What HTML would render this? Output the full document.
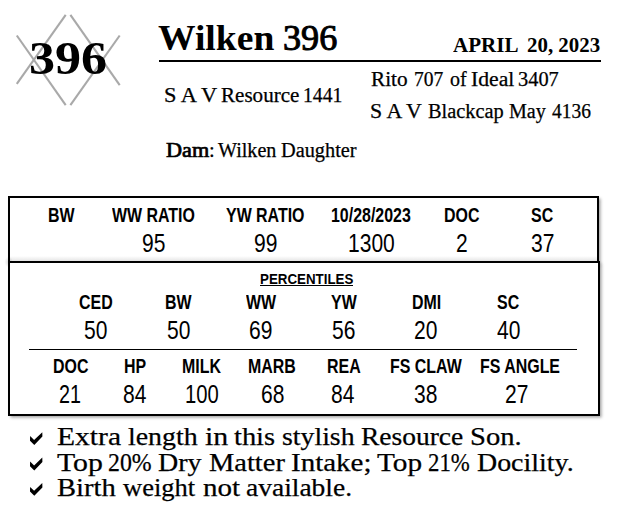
<!DOCTYPE html>
<html><head><meta charset="utf-8"><title>Wilken 396</title>
<style>
html,body{margin:0;padding:0;background:#fff;}
body{width:620px;height:528px;position:relative;overflow:hidden;color:#000;}
span.s,span.a{position:absolute;white-space:pre;line-height:1;transform-origin:0 0;display:block;}
span.s{font-family:"Liberation Serif",serif;-webkit-text-stroke:0.25px #000;}
span.a{font-family:"Liberation Sans",sans-serif;}
span.h{font-weight:400;-webkit-text-stroke:0.6px #000;}
span.b{font-weight:700;-webkit-text-stroke:0;}
.box{position:absolute;box-sizing:border-box;border:2px solid #000;background:#fff;box-shadow:1.5px 1.5px 3px rgba(0,0,0,.38);}
.hr{position:absolute;background:#000;}
svg{position:absolute;left:0;top:0;}
</style></head><body>
<svg width="620" height="528" viewBox="0 0 620 528">
 <g stroke="#a9a9a9" stroke-width="2.1" fill="none">
  <line x1="16.8" y1="35.5" x2="65.7" y2="105.2"/>
  <line x1="16.8" y1="83.9" x2="65.7" y2="14.8"/>
  <line x1="70.4" y1="14.8" x2="119.7" y2="85.1"/>
  <line x1="70.4" y1="105.2" x2="119.7" y2="35.5"/>
 </g>
</svg>
<div class="hr" style="left:159px;top:60px;width:442px;height:2px"></div>
<div class="box" style="left:8px;top:196px;width:591px;height:67px"></div>
<div style="position:absolute;left:10px;top:256px;width:587px;height:6px;background:linear-gradient(to bottom,rgba(0,0,0,0),rgba(0,0,0,.12))"></div>
<div style="position:absolute;left:4px;top:256px;width:8px;height:12px;background:radial-gradient(ellipse at 60% 50%,rgba(0,0,0,.14),rgba(0,0,0,0) 65%)"></div>
<div class="hr" style="left:8px;top:250px;width:2px;height:12px"></div>
<div class="box" style="left:8px;top:261px;width:592px;height:155px"></div>
<div class="hr" style="left:29px;top:349px;width:548px;height:1px"></div>
<div class="hr" style="left:260px;top:285px;width:93px;height:1px"></div>
<svg width="620" height="528" viewBox="0 0 620 528">
 <g fill="#000" stroke="none">
  <polygon points="30.1,436.1 34.1,440.0 42.3,432.2 42.4,436.6 34.3,445.0 30.0,440.8"/>
  <polygon points="30.1,461.5 34.1,465.4 42.3,457.6 42.4,462.0 34.3,470.4 30.0,466.2"/>
  <polygon points="30.1,486.9 34.1,490.8 42.3,483.0 42.4,487.4 34.3,495.8 30.0,491.6"/>
 </g>
</svg>
<span class="s b" style="left:29.02px;top:35.77px;font-size:46px;transform:scaleX(1.1328);">396</span>
<span class="s b" style="left:157.94px;top:20.35px;font-size:36px;transform:scaleX(1.0441);">Wilken</span>
<span class="s" style="left:282.92px;top:20.35px;font-size:36px;transform:scaleX(1.0051);-webkit-text-stroke:1.0px #000">396</span>
<span class="s b" style="left:452.61px;top:34.56px;font-size:20.7px;transform:scaleX(1.0164);">APRIL</span>
<span class="s b" style="left:527.16px;top:34.56px;font-size:20.7px;transform:scaleX(1.0094);">20, 2023</span>
<span class="s" style="left:163.82px;top:84.85px;font-size:20px;transform:scaleX(1.1189);">S A V</span>
<span class="s" style="left:220.86px;top:84.85px;font-size:20px;transform:scaleX(1.0541);">Resource</span>
<span class="s" style="left:303.20px;top:84.85px;font-size:20px;transform:scaleX(0.9834);">1441</span>
<span class="s" style="left:371.15px;top:69.05px;font-size:20px;transform:scaleX(1.0621);">Rito</span>
<span class="s" style="left:413.67px;top:69.05px;font-size:20px;transform:scaleX(0.9778);">707</span>
<span class="s" style="left:449.73px;top:69.05px;font-size:20px;transform:scaleX(0.9980);">of</span>
<span class="s" style="left:470.51px;top:69.05px;font-size:20px;transform:scaleX(1.0831);">Ideal</span>
<span class="s" style="left:517.76px;top:69.05px;font-size:20px;transform:scaleX(1.0192);">3407</span>
<span class="s" style="left:370.46px;top:100.85px;font-size:20px;transform:scaleX(1.0926);">S A V</span>
<span class="s" style="left:427.94px;top:100.85px;font-size:20px;transform:scaleX(1.0178);">Blackcap</span>
<span class="s" style="left:509.20px;top:100.85px;font-size:20px;transform:scaleX(1.0042);">May</span>
<span class="s" style="left:551.67px;top:100.85px;font-size:20px;transform:scaleX(0.9709);">4136</span>
<span class="s" style="left:165.63px;top:140.25px;font-size:20px;transform:scaleX(1.1098);-webkit-text-stroke:0.7px #000">Dam</span>
<span class="s" style="left:208.61px;top:140.25px;font-size:20px;transform:scaleX(1.0300);">:</span>
<span class="s" style="left:217.75px;top:140.25px;font-size:20px;transform:scaleX(1.0053);">Wilken</span>
<span class="s" style="left:280.69px;top:140.25px;font-size:20px;transform:scaleX(1.0160);">Daughter</span>
<span class="a b" style="left:47.82px;top:204.72px;font-size:20.3px;transform:scaleX(0.7860);">BW</span>
<span class="a b" style="left:111.97px;top:204.72px;font-size:20.3px;transform:scaleX(0.7860);">WW RATIO</span>
<span class="a b" style="left:226.34px;top:204.72px;font-size:20.3px;transform:scaleX(0.7860);">YW RATIO</span>
<span class="a b" style="left:330.81px;top:204.72px;font-size:20.3px;transform:scaleX(0.7860);">10/28/2023</span>
<span class="a b" style="left:444.49px;top:204.72px;font-size:20.3px;transform:scaleX(0.7860);">DOC</span>
<span class="a b" style="left:531.23px;top:204.72px;font-size:20.3px;transform:scaleX(0.7860);">SC</span>
<span class="a" style="left:141.76px;top:230.84px;font-size:25px;transform:scaleX(0.8420);">95</span>
<span class="a" style="left:253.65px;top:230.84px;font-size:25px;transform:scaleX(0.8420);">99</span>
<span class="a" style="left:347.60px;top:230.84px;font-size:25px;transform:scaleX(0.8420);">1300</span>
<span class="a" style="left:456.35px;top:230.84px;font-size:25px;transform:scaleX(0.8420);">2</span>
<span class="a" style="left:530.86px;top:230.84px;font-size:25px;transform:scaleX(0.8420);">37</span>
<span class="a b" style="left:259.60px;top:270.73px;font-size:15.2px;transform:scaleX(0.8775);">PERCENTILES</span>
<span class="a b" style="left:79.06px;top:292.02px;font-size:20.3px;transform:scaleX(0.7860);">CED</span>
<span class="a b" style="left:164.72px;top:292.02px;font-size:20.3px;transform:scaleX(0.7860);">BW</span>
<span class="a b" style="left:245.64px;top:292.02px;font-size:20.3px;transform:scaleX(0.7860);">WW</span>
<span class="a b" style="left:330.89px;top:292.02px;font-size:20.3px;transform:scaleX(0.7860);">YW</span>
<span class="a b" style="left:411.73px;top:292.02px;font-size:20.3px;transform:scaleX(0.7860);">DMI</span>
<span class="a b" style="left:497.38px;top:292.02px;font-size:20.3px;transform:scaleX(0.7860);">SC</span>
<span class="a" style="left:84.30px;top:317.94px;font-size:25px;transform:scaleX(0.8420);">50</span>
<span class="a" style="left:166.60px;top:317.94px;font-size:25px;transform:scaleX(0.8420);">50</span>
<span class="a" style="left:249.18px;top:317.94px;font-size:25px;transform:scaleX(0.8420);">69</span>
<span class="a" style="left:331.88px;top:317.94px;font-size:25px;transform:scaleX(0.8420);">56</span>
<span class="a" style="left:413.84px;top:317.94px;font-size:25px;transform:scaleX(0.8420);">20</span>
<span class="a" style="left:496.83px;top:317.94px;font-size:25px;transform:scaleX(0.8420);">40</span>
<span class="a b" style="left:53.19px;top:355.72px;font-size:20.3px;transform:scaleX(0.7860);">DOC</span>
<span class="a b" style="left:123.70px;top:355.72px;font-size:20.3px;transform:scaleX(0.7860);">HP</span>
<span class="a b" style="left:181.70px;top:355.72px;font-size:20.3px;transform:scaleX(0.7860);">MILK</span>
<span class="a b" style="left:248.21px;top:355.72px;font-size:20.3px;transform:scaleX(0.7860);">MARB</span>
<span class="a b" style="left:326.53px;top:355.72px;font-size:20.3px;transform:scaleX(0.7860);">REA</span>
<span class="a b" style="left:389.51px;top:355.72px;font-size:20.3px;transform:scaleX(0.7860);">FS CLAW</span>
<span class="a b" style="left:479.79px;top:355.72px;font-size:20.3px;transform:scaleX(0.7860);">FS ANGLE</span>
<span class="a" style="left:58.76px;top:381.64px;font-size:25px;transform:scaleX(0.7900);">21</span>
<span class="a" style="left:122.85px;top:381.64px;font-size:25px;transform:scaleX(0.8420);">84</span>
<span class="a" style="left:184.58px;top:381.64px;font-size:25px;transform:scaleX(0.8100);">100</span>
<span class="a" style="left:260.60px;top:381.64px;font-size:25px;transform:scaleX(0.8420);">68</span>
<span class="a" style="left:331.40px;top:381.64px;font-size:25px;transform:scaleX(0.8420);">84</span>
<span class="a" style="left:414.17px;top:381.64px;font-size:25px;transform:scaleX(0.8420);">38</span>
<span class="a" style="left:505.41px;top:381.64px;font-size:25px;transform:scaleX(0.8420);">27</span>
<span class="s" style="left:57.09px;top:424.03px;font-size:26px;transform:scaleX(1.1368);">Extra</span>
<span class="s" style="left:127.92px;top:424.03px;font-size:26px;transform:scaleX(1.0725);">length</span>
<span class="s" style="left:204.61px;top:424.03px;font-size:26px;transform:scaleX(1.1484);">in</span>
<span class="s" style="left:234.38px;top:424.03px;font-size:26px;transform:scaleX(1.0933);">this</span>
<span class="s" style="left:281.73px;top:424.03px;font-size:26px;transform:scaleX(1.0684);">stylish</span>
<span class="s" style="left:361.15px;top:424.03px;font-size:26px;transform:scaleX(1.0572);">Resource</span>
<span class="s" style="left:470.06px;top:424.03px;font-size:26px;transform:scaleX(1.1017);">Son.</span>
<span class="s" style="left:57.43px;top:449.53px;font-size:26px;transform:scaleX(1.1455);">Top</span>
<span class="s" style="left:108.38px;top:449.53px;font-size:26px;transform:scaleX(0.9163);">20%</span>
<span class="s" style="left:157.89px;top:449.53px;font-size:26px;transform:scaleX(1.0770);">Dry</span>
<span class="s" style="left:208.62px;top:449.53px;font-size:26px;transform:scaleX(1.0945);">Matter</span>
<span class="s" style="left:291.09px;top:449.53px;font-size:26px;transform:scaleX(1.1150);">Intake;</span>
<span class="s" style="left:377.44px;top:449.53px;font-size:26px;transform:scaleX(1.1260);">Top</span>
<span class="s" style="left:427.68px;top:449.53px;font-size:26px;transform:scaleX(0.8779);">21%</span>
<span class="s" style="left:476.64px;top:449.53px;font-size:26px;transform:scaleX(1.0739);">Docility.</span>
<span class="s" style="left:57.12px;top:474.73px;font-size:26px;transform:scaleX(1.0994);">Birth</span>
<span class="s" style="left:123.34px;top:474.73px;font-size:26px;transform:scaleX(1.0195);">weight</span>
<span class="s" style="left:202.98px;top:474.73px;font-size:26px;transform:scaleX(1.1162);">not</span>
<span class="s" style="left:246.32px;top:474.73px;font-size:26px;transform:scaleX(1.0572);">available.</span>
</body></html>
